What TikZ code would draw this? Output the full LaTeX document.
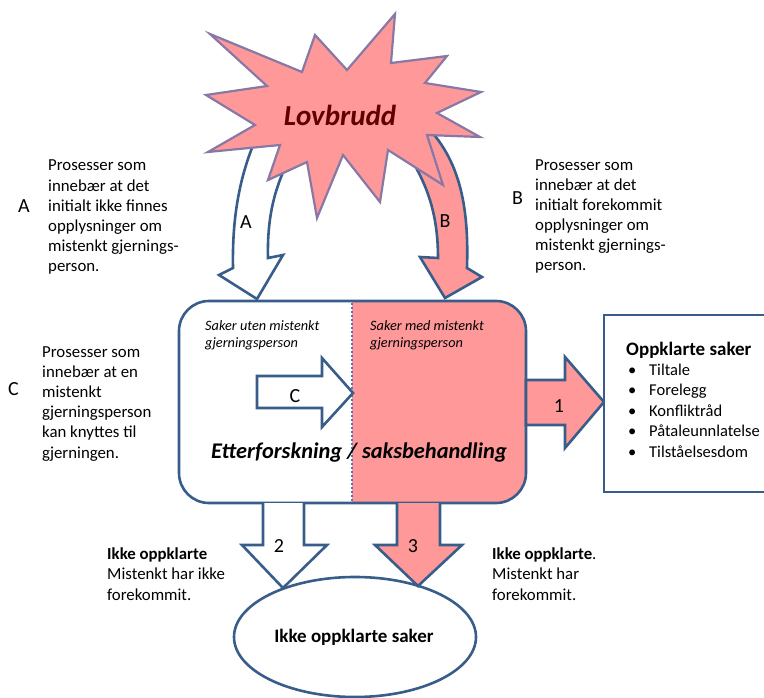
\documentclass[tikz,border=0pt]{standalone}
\usepackage{fontspec}
\setmainfont{Carlito}
\definecolor{edge}{RGB}{56,93,138}
\definecolor{pinkf}{RGB}{255,153,153}
\definecolor{staredge}{RGB}{135,120,165}
\definecolor{darkred}{RGB}{96,0,0}
\definecolor{dotc}{RGB}{75,120,190}
\begin{document}
\begin{tikzpicture}[x=1pt,y=-1pt,
  blk/.style={draw=edge, line width=2.6pt, line join=miter},
  side/.style={font=\fontsize{16.8}{20.2}\selectfont, inner sep=0pt, align=left, anchor=base west},
  big/.style={font=\fontsize{20}{22}\selectfont, inner sep=0pt, anchor=base},
  inlbl/.style={font=\fontsize{14.3}{17}\selectfont\itshape, inner sep=0pt, align=left, anchor=base west}]
\useasboundingbox (0,0) rectangle (764,698);
% arrow A
\path[blk, fill=white] (262,125) .. controls (240,170) and (232,215) .. (233,268) -- (219,275) -- (257,299) -- (283,255) -- (268,258) .. controls (267,215) and (275,180) .. (300,140) -- cycle;
% arrow B
\path[blk, fill=pinkf] (418,118) .. controls (460,155) and (469,205) .. (467,268) -- (482,277) -- (445,298) -- (420,257) -- (438,258) .. controls (438,215) and (428,180) .. (398,140) -- cycle;
% starburst
\path[draw=staredge, line width=2.2pt, fill=pinkf, line join=miter]
 (210,34) -- (302,72) -- (315,35) -- (347,70) -- (395,14) -- (391,63) -- (447,56) -- (425,83) -- (481,92) -- (437,113) -- (480,137) -- (427,135) -- (443,185) -- (388,150) -- (380,202) -- (343,155) -- (317,218) -- (307,162) -- (268,180) -- (280,145) -- (208,152) -- (255,125) -- (206,95) -- (267,86) -- cycle;
\node[font=\fontsize{29}{32}\selectfont\bfseries\itshape, text=darkred, inner sep=0pt, anchor=base] (lov) at (340,126) {Lovbrudd};
\node[big] (la) at (246,229) {A};
\node[big] (lb) at (445,228) {B};
% main box
\fill[white, rounded corners=30pt] (179,301) rectangle (526,503);
\begin{scope}
\clip (352,290) rectangle (540,510);
\fill[pinkf, rounded corners=30pt] (179,301) rectangle (526,503);
\end{scope}
\draw[edge, line width=2.6pt, rounded corners=30pt] (179,301) rectangle (526,503);
\draw[dotc, line width=2.4pt, dash pattern=on 2pt off 2pt] (352,303) -- (352,501);
\node[inlbl] (t1) at (205,347) {Saker uten mistenkt\\gjerningsperson};
\node[inlbl] (t2) at (370,347) {Saker med mistenkt\\gjerningsperson};
% arrow C
\path[blk, fill=white] (257,376) -- (322,376) -- (322,358) -- (353,393) -- (322,427) -- (322,408) -- (257,408) -- cycle;
\node[big] (lc) at (295,402) {C};
\node[font=\fontsize{22.4}{25}\selectfont\bfseries\itshape, inner sep=0pt, anchor=base] (ett) at (359,458) {Etterforskning / saksbehandling};
% arrow 1
\path[blk, fill=pinkf] (526,380) -- (565,380) -- (565,357) -- (604,402) -- (565,448) -- (565,425) -- (526,425) -- cycle;
\node[big] (l1) at (559,412) {1};
% Oppklarte box
\draw[blk, fill=white] (604,315) rectangle (775,492);
\node[font=\fontsize{19}{22}\selectfont\bfseries, inner sep=0pt, anchor=base west] (opp) at (626,355) {Oppklarte saker};
\foreach \t [count=\i] in {Tiltale, Forelegg, Konfliktråd, Påtaleunnlatelse, Tilståelsesdom} {
  \node[font=\fontsize{16.5}{18}\selectfont, inner sep=0pt, anchor=base west] (b\i) at (628,{355+20.4*\i}) {•};
  \node[font=\fontsize{16.5}{18}\selectfont, inner sep=0pt, anchor=base west] (i\i) at (649,{355+20.4*\i}) {\t};
}
% ellipse
\draw[blk, fill=white] (355,637) ellipse [x radius=121, y radius=60];
\node[font=\fontsize{19}{22}\selectfont\bfseries, inner sep=0pt, anchor=base] (ikke) at (354,642) {Ikke oppklarte saker};
% arrow 2
\path[blk, fill=white] (263,503) -- (263,545) -- (242,545) -- (283,588) -- (327,545) -- (304,545) -- (304,503);
\node[big] (l2) at (279,552) {2};
% arrow 3
\path[blk, fill=pinkf] (397,503) -- (397,545) -- (375,545) -- (418,586) -- (462,545) -- (440,545) -- (440,503);
\node[big] (l3) at (413,552) {3};
% side texts
\node[big, anchor=base west] (sa) at (18,213) {A};
\node[side] (ta) at (48,272) {Prosesser som\\innebær at det\\initialt ikke finnes\\opplysninger om\\mistenkt gjernings-\\person.};
\node[big, anchor=base west] (sb) at (512,205) {B};
\node[side] (tb) at (535,271) {Prosesser som\\innebær at det\\initialt forekommit\\opplysninger om\\mistenkt gjernings-\\person.};
\node[big, anchor=base west] (sc) at (8,395) {C};
\node[side] (tc) at (42,458) {Prosesser som\\innebær at en\\mistenkt\\gjerningsperson\\kan knyttes til\\gjerningen.};
\node[side] (bl) at (107,600) {\textbf{Ikke oppklarte}\\Mistenkt har ikke\\forekommit.};
\node[side] (br) at (492,600) {\textbf{Ikke oppklarte}.\\Mistenkt har\\forekommit.};
\end{tikzpicture}
\end{document}
